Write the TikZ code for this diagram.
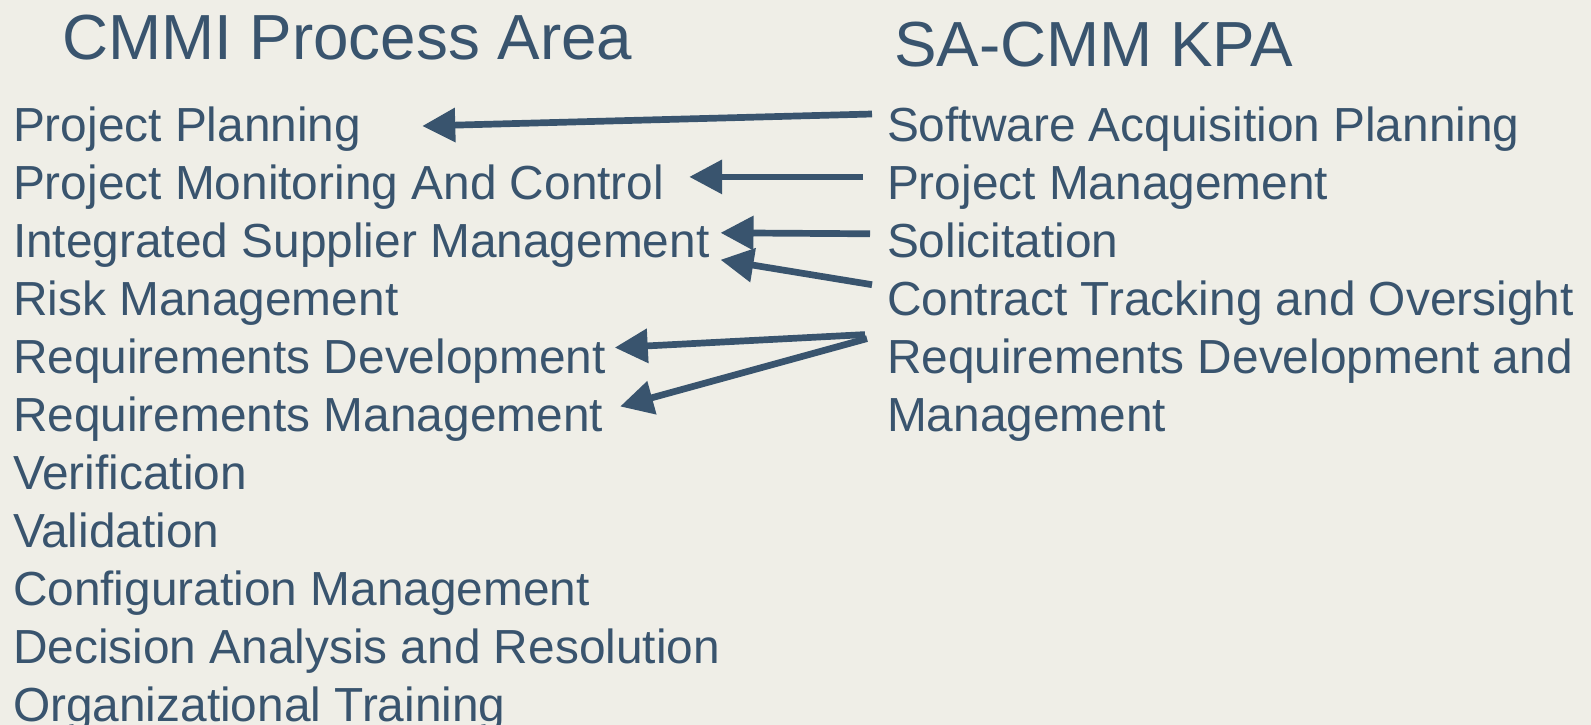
\documentclass[tikz,border=0pt]{standalone}
\usepackage{fontspec}
\setmainfont{Liberation Sans}
\usetikzlibrary{arrows.meta,calc}
\definecolor{bg}{RGB}{239,238,231}
\definecolor{ink}{RGB}{57,84,110}
\begin{document}
\begin{tikzpicture}[x=1bp,y=-1bp,
  item/.style={anchor=base west,inner sep=0,outer sep=0,text=ink,font=\fontsize{48}{57}\selectfont},
  head/.style={anchor=base west,inner sep=0,outer sep=0,text=ink,font=\fontsize{64}{76}\selectfont},
  link/.style={draw=ink,line width=6.7bp,-{Triangle[length=33bp,width=33bp]}}]
\fill[bg] (0,0) rectangle (1591,725);
\useasboundingbox (0,0) rectangle (1591,725);
\node[head] (t1) at (62,60) {CMMI Process Area};
\node[head] (t2) at (894,67) {SA-CMM KPA};
\foreach \txt [count=\i from 0] in {Project Planning,Project Monitoring And Control,Integrated Supplier Management,Risk Management,Requirements Development,Requirements Management,Verification,Validation,Configuration Management,Decision Analysis and Resolution,Organizational Training}
  \node[item] (l\i) at (13,142+57.9*\i) {\txt};
\foreach \txt [count=\i from 0] in {Software Acquisition Planning,Project Management,Solicitation,Contract Tracking and Oversight,Requirements Development and,Management}
  \node[item] (r\i) at (887,142+57.9*\i) {\txt};
\draw[link] ($(r0.base west)+(-15,-28)$) -- ($(l0.base east)+(61,-16)$);
\draw[link] ($(r1.base west)+(-24,-23)$) -- ($(l1.base east)+(25,-23)$);
\draw[link] ($(r2.base west)+(-17,-24)$) -- ($(l2.base east)+(11,-25)$);
\draw[link] ($(r3.base west)+(-15,-31)$) -- ($(l2.base east)+(11,2)$);
\draw[link] ($(r4.base west)+(-22,-39)$) -- ($(l4.base east)+(9,-26)$);
\draw[link] ($(r4.base west)+(-20,-35)$) -- ($(l5.base east)+(17,-25)$);
\end{tikzpicture}
\end{document}
